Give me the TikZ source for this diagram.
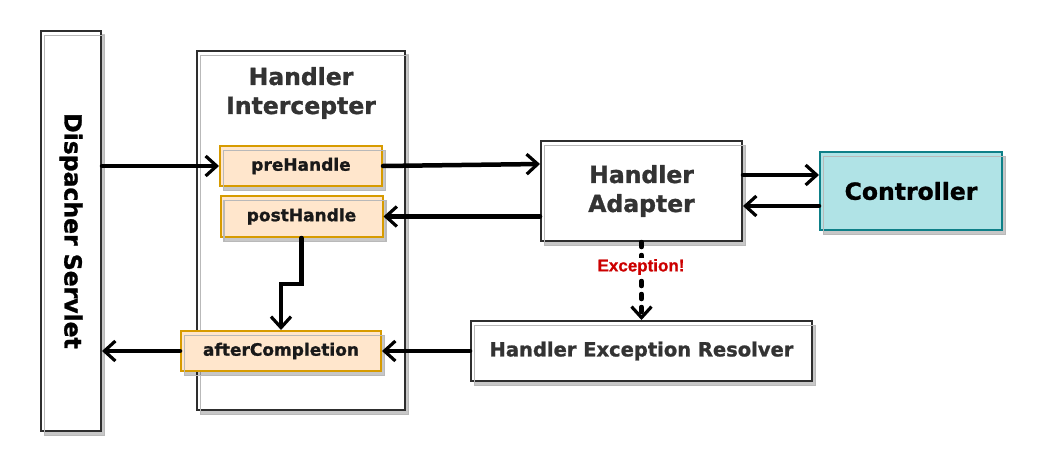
\documentclass[tikz,border=0pt]{standalone}
\usepackage{fontspec}
\setmainfont[BoldFeatures={FakeBold=1.2}]{DejaVu Sans}
\newfontfamily\helv[BoldFeatures={FakeBold=0.8}]{Liberation Sans}
\usetikzlibrary{arrows.meta}
\definecolor{orfill}{HTML}{FFE6CC}
\definecolor{orline}{HTML}{D79B00}
\definecolor{tealfill}{HTML}{B0E3E6}
\definecolor{tealline}{HTML}{0E8088}
\definecolor{txt}{HTML}{333333}
\definecolor{excred}{HTML}{CC0000}
\tikzset{
  sk/.style={rectangle, inner sep=0pt, line width=2pt,
    preaction={fill=black,opacity=0.22,transform canvas={xshift=3.5pt,yshift=-3.5pt}},
    postaction={draw=gray!55,line width=1.3pt,fill=none,transform canvas={xshift=3.5pt,yshift=-4.5pt}}},
  plainbox/.style={sk, draw=black!82, fill=white, text=txt},
  hookbox/.style={sk, draw=orline, fill=orfill, text=black!90, font=\bfseries\fontsize{17}{20}\selectfont},
  ctrlbox/.style={sk, draw=tealline, fill=tealfill, text=black, font=\bfseries\fontsize{23.5}{28}\selectfont},
  bigtext/.style={align=center, font=\bfseries\fontsize{23.5}{29}\selectfont},
  flow/.style={line width=4.5pt, line cap=round, -{Straight Barb[length=11pt,width=20pt,line width=3.2pt]}},
}
\begin{document}
\begin{tikzpicture}[x=1pt,y=-1pt]
\useasboundingbox (0,0) rectangle (1040,460);
% containers
\node[plainbox, minimum width=60pt, minimum height=400pt] (ds) at (71,231) {};
\node[rotate=-90, bigtext, text=black] (dslabel) at (71,231) {Dispacher Servlet};
\node[plainbox, minimum width=208pt, minimum height=359pt] (hi) at (301,230.5) {};
\node[bigtext, text=txt] (hititle) at (301,93) {Handler\\Intercepter};
% hooks
\node[hookbox, minimum width=162pt, minimum height=40pt] (pre) at (301,166) {preHandle};
\node[hookbox, minimum width=162pt, minimum height=41pt] (post) at (301.5,216.5) {postHandle};
\node[hookbox, minimum width=200pt, minimum height=40pt] (after) at (281,351) {afterCompletion};
% right side
\node[plainbox, bigtext, minimum width=201pt, minimum height=100pt] (ha) at (641.5,191) {Handler\\Adapter};
\node[ctrlbox, minimum width=182pt, minimum height=78pt] (ctrl) at (911,191) {Controller};
\node[plainbox, font=\bfseries\fontsize{19.5}{23}\selectfont, minimum width=341pt, minimum height=60pt] (her) at (641.5,351) {Handler Exception Resolver};
% connectors
\draw[flow] (ds.east |- pre.west) -- (pre.west);
\draw[flow] (pre.east) -- ([yshift=2pt]pre.east -| ha.west);
\draw[flow] (ha.west |- post.east) -- (post.east);
\draw[flow] ([yshift=16pt]ha.east) -- ([yshift=16pt]ha.east -| ctrl.west);
\draw[flow] ([yshift=-15pt]ctrl.west) -- ([yshift=-15pt]ctrl.west -| ha.east);
\draw[flow] (post.south) -- ([yshift=-46pt]post.south) -| (after.north);
\draw[flow] (after.west) -- (after.west -| ds.east);
\draw[flow] (her.west) -- (her.west -| after.east);
\draw[flow, dash pattern=on 5pt off 8pt] (ha.south) -- (her.north);
\node[fill=white, inner sep=1pt, text=excred, font=\helv\bfseries\fontsize{17}{20}\selectfont] (exc) at (641,267) {Exception!};
\end{tikzpicture}
\end{document}
